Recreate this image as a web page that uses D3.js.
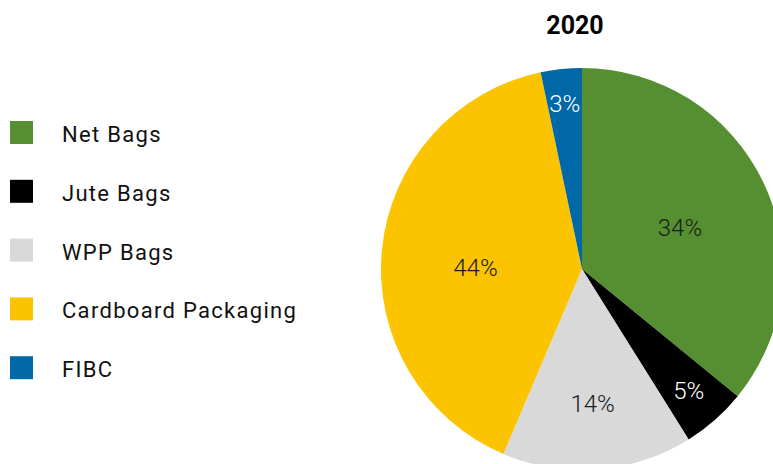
<!DOCTYPE html>
<html>
<head>
<meta charset="utf-8">
<script src="https://cdn.jsdelivr.net/npm/d3@7"></script>
<style>
  html, body { margin: 0; padding: 0; background: #fff; }
  svg { display: block; }
</style>
</head>
<body>
<svg id="chart" width="773" height="464"></svg>
<script>
// data (slice shares) and the printed labels
const categories = ['Net Bags', 'Jute Bags', 'WPP Bags', 'Cardboard Packaging', 'FIBC'];
const shares = [35.9, 5.2, 15.3, 40.3, 3.3];
const labels = ['34%', '5%', '14%', '44%', '3%'];
const colors = ['#558F31', '#000000', '#D8D9D8', '#FCC400', '#0068A6'];
const labelColors = ['#1a1a1a', '#ffffff', '#1a1a1a', '#1a1a1a', '#ffffff'];
const title = '2020';

const w = 773, h = 464;
const cx = 582, cy = 269, R = 201;

const svg = d3.select('#chart');

svg.append('text')
  .attr('x', 575)
  .attr('y', 34)
  .attr('text-anchor', 'middle')
  .style('font-family', 'Roboto, sans-serif')
  .style('font-weight', 700)
  .style('font-size', '25px')
  .attr('fill', '#000')
  .text(title);

const pie = d3.pie().sort(null).value(d => d);
const arcs = pie(shares);
const arc = d3.arc().innerRadius(0).outerRadius(R);

const g = svg.append('g').attr('transform', `translate(${cx},${cy})`);

g.selectAll('path')
  .data(arcs)
  .enter()
  .append('path')
  .attr('d', arc)
  .attr('fill', (d, i) => colors[i]);

// small slices get their label pushed outward (like excel best fit)
const total = d3.sum(shares);
g.selectAll('text.pct')
  .data(arcs)
  .enter()
  .append('text')
  .attr('class', 'pct')
  .attr('transform', d => {
    const frac = d.value / total;
    const r = R * Math.max(0.53, 0.87 - 1.3 * frac);
    let a = (d.startAngle + d.endAngle) / 2;
    // big slices: label sits a bit nearer the horizontal
    if (frac > 0.3) a += (a > Math.PI ? -0.08 : 0.04);
    return `translate(${Math.sin(a) * r},${-Math.cos(a) * r})`;
  })
  .attr('text-anchor', 'middle')
  .attr('dy', '0.36em')
  .style('font-family', 'Roboto, sans-serif')
  .style('font-weight', 300)
  .style('font-size', '24px')
  .attr('fill', (d, i) => labelColors[i])
  .text((d, i) => labels[i]);

// legend
const legend = svg.append('g');
const rowY = d3.scaleBand().domain(categories).range([106, 400]);

const row = legend.selectAll('g')
  .data(categories)
  .enter()
  .append('g')
  .attr('transform', d => `translate(0,${rowY(d)})`);

row.append('rect')
  .attr('x', 10)
  .attr('y', 15)
  .attr('width', 23)
  .attr('height', 23)
  .attr('fill', (d, i) => colors[i]);

row.append('text')
  .attr('x', 62)
  .attr('y', 36)
  .style('font-family', 'Roboto, sans-serif')
  .style('font-size', '22px')
  .style('letter-spacing', '1.3px')
  .attr('fill', '#111')
  .text(d => d);
</script>
</body>
</html>
